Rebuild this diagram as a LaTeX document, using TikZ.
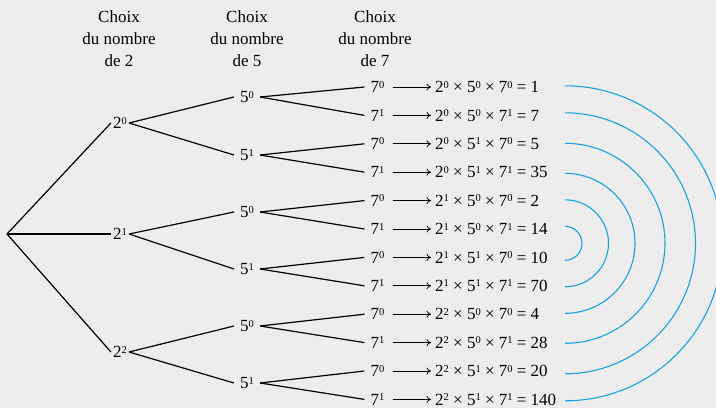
\documentclass[tikz,border=0pt]{standalone}
\usepackage{fontspec}
\setmainfont{Liberation Serif}
\usetikzlibrary{arrows.meta,calc}
\definecolor{bg}{RGB}{237,237,237}
\definecolor{arcblue}{RGB}{24,162,226}
\newcommand{\pw}[2]{#1\raisebox{4.6pt}{\fontsize{10.5}{10}\selectfont #2}}
\begin{document}
\begin{tikzpicture}[x=1pt,y=-1pt,
  font=\fontsize{17}{22}\selectfont,
  branch/.style={line width=1.2pt,black},
  lvtwo/.style={inner xsep=2pt,inner ysep=1pt},
  lvfive/.style={inner xsep=6pt,inner ysep=1pt},
  lvseven/.style={inner xsep=6pt,inner ysep=1pt},
  prod/.style={anchor=west,inner xsep=4pt,inner ysep=1pt},
  head/.style={align=center,inner sep=0pt},
  arr/.style={line width=0.75pt,-{To[length=4.5pt,width=7pt]}},
  pairarc/.style={line width=1.1pt,arcblue}]
\fill[bg] (0,0) rectangle (716,408);
\useasboundingbox (0,0) rectangle (716,408);
\clip (0,0) rectangle (716,408);

% headers
\node[head] (h2) at (119,39) {Choix\\du nombre\\de 2};
\node[head] (h5) at (247,39) {Choix\\du nombre\\de 5};
\node[head] (h7) at (375,39) {Choix\\du nombre\\de 7};

% root and first level
\coordinate (r) at (7,234);
\node[lvtwo] (a0) at (120,123) {\pw{2}{0}};
\node[lvtwo] (a1) at (120,234) {\pw{2}{1}};
\node[lvtwo] (a2) at (120,352) {\pw{2}{2}};
\foreach \i in {0,1,2} \draw[branch] (r) -- (a\i.west);

% second level
\foreach \j/\e/\y/\pp in {1/0/97/0, 2/1/155/0, 3/0/212/1, 4/1/269/1, 5/0/326/2, 6/1/383/2}{
  \node[lvfive] (b\j) at (247,\y) {\pw{5}{\e}};
  \draw[branch] (a\pp.east) -- (b\j.west);
}

% third level and products
\foreach \k/\ea/\eb/\ec/\vv/\qq in {
  1/0/0/0/1/1, 2/0/0/1/7/1, 3/0/1/0/5/2, 4/0/1/1/35/2,
  5/1/0/0/2/3, 6/1/0/1/14/3, 7/1/1/0/10/4, 8/1/1/1/70/4,
  9/2/0/0/4/5, 10/2/0/1/28/5, 11/2/1/0/20/6, 12/2/1/1/140/6}{
  \pgfmathsetmacro{\yy}{87+(\k-1)*28.4}
  \node[lvseven] (c\k) at (377.5,\yy) {\pw{7}{\ec}};
  \draw[branch] (b\qq.east) -- (c\k.west);
  \node[prod] (p\k) at (431,\yy) {\pw{2}{\ea} × \pw{5}{\eb} × \pw{7}{\ec} = \vv};
  \draw[arr] ([xshift=2pt]c\k.east) -- (p\k.west);
}

% pairing arcs
\coordinate (ac) at (565,243.3);
\foreach \r in {17,43.5,70,100,130.5,157.5}{
  \draw[pairarc] ($(ac)+(0,-\r)$) arc[start angle=-90,end angle=90,radius=\r];
}
\end{tikzpicture}
\end{document}
